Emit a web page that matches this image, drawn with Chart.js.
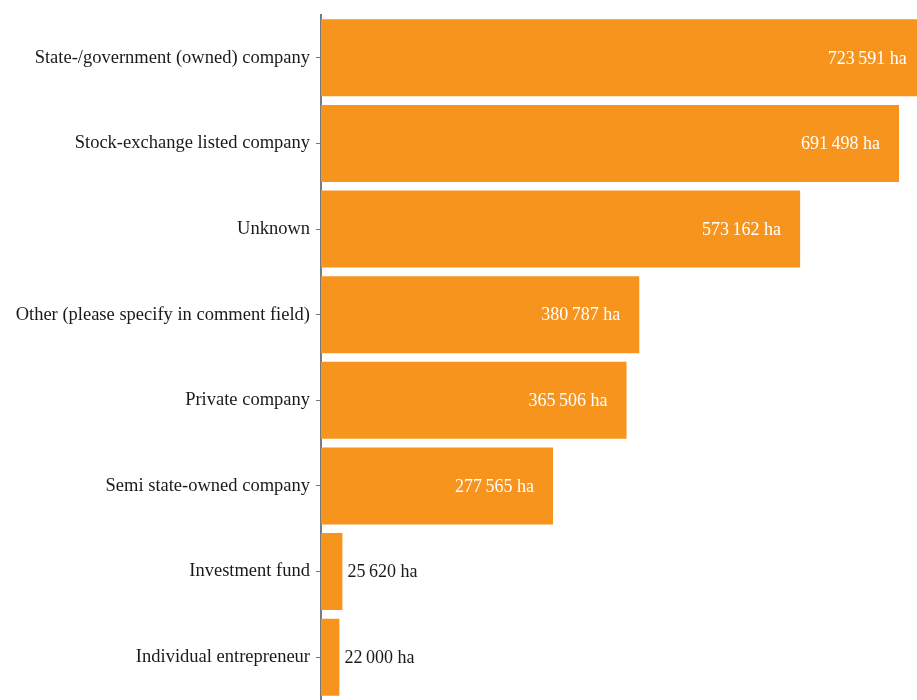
<!DOCTYPE html>
<html>
<head>
<meta charset="utf-8">
<script src="https://cdn.jsdelivr.net/npm/chart.js@4"></script>
<style>
  html, body { margin: 0; padding: 0; background: #fff; }
  #wrap { width: 917px; height: 700px; }
</style>
</head>
<body>
<div id="wrap"><canvas id="chart" width="917" height="700"></canvas></div>
<script>
/* Land area by investor type (ha) */

var categories = [
  'State-/government (owned) company',
  'Stock-exchange listed company',
  'Unknown',
  'Other (please specify in comment field)',
  'Private company',
  'Semi state-owned company',
  'Investment fund',
  'Individual entrepreneur'
];
var hectares = [723591, 691498, 573162, 380787, 365506, 277565, 25620, 22000];

var BAR_COLOR  = '#F7941D';
var TEXT_COLOR = '#1a1a1a';
var FONT       = '"Liberation Serif", "DejaVu Serif", serif';

function fmtHa(v) {
  // thin space as thousands separator, like the source
  return String(v).replace(/\B(?=(\d{3})+(?!\d))/g, '\u2009') + ' ha';
}

/* ── value labels: inside (white) for long bars, outside (dark) for short ── */
var valueLabels = {
  id: 'valueLabels',
  afterDatasetsDraw: function (chart) {
    var ctx  = chart.ctx;
    var meta = chart.getDatasetMeta(0);
    ctx.save();
    ctx.font = '18px ' + FONT;
    ctx.textBaseline = 'middle';
    meta.data.forEach(function (bar, i) {
      var txt = fmtHa(hectares[i]);
      if (bar.x - bar.base > 120) {
        ctx.fillStyle = '#ffffff';
        ctx.textAlign = 'right';
        ctx.fillText(txt, bar.x - 19, bar.y + 1);
      } else {
        ctx.fillStyle = TEXT_COLOR;
        ctx.textAlign = 'left';
        ctx.fillText(txt, bar.x + 5, bar.y + 1);
      }
    });
    ctx.restore();
  }
};

new Chart(document.getElementById('chart'), {
  type: 'bar',
  data: {
    labels: categories,
    datasets: [{
      data: hectares,
      backgroundColor: BAR_COLOR,
      borderWidth: 0,
      barPercentage: 0.9,
      categoryPercentage: 1.0
    }]
  },
  options: {
    indexAxis: 'y',
    responsive: false,
    animation: false,
    layout: { padding: { top: 15, right: 0, bottom: 0, left: 0 } },
    plugins: {
      legend: { display: false },
      tooltip: { enabled: false }
    },
    scales: {
      x: {
        display: false,
        min: 0,
        max: 713000
      },
      y: {
        afterFit: function (scale) {
          scale.width = 321;
          // labels sit mid-category, no need for edge padding
          scale.paddingTop = 0;
          scale.paddingBottom = 0;
        },
        border: { display: true, color: '#7a7a7a', width: 2 },
        grid: {
          display: true,
          offset: false,
          drawOnChartArea: false,
          drawTicks: true,
          tickLength: 5,
          color: '#7a7a7a'
        },
        ticks: {
          color: TEXT_COLOR,
          padding: 6,
          font: { family: FONT, size: 18.5 }
        }
      }
    }
  },
  plugins: [valueLabels]
});
</script>
</body>
</html>
